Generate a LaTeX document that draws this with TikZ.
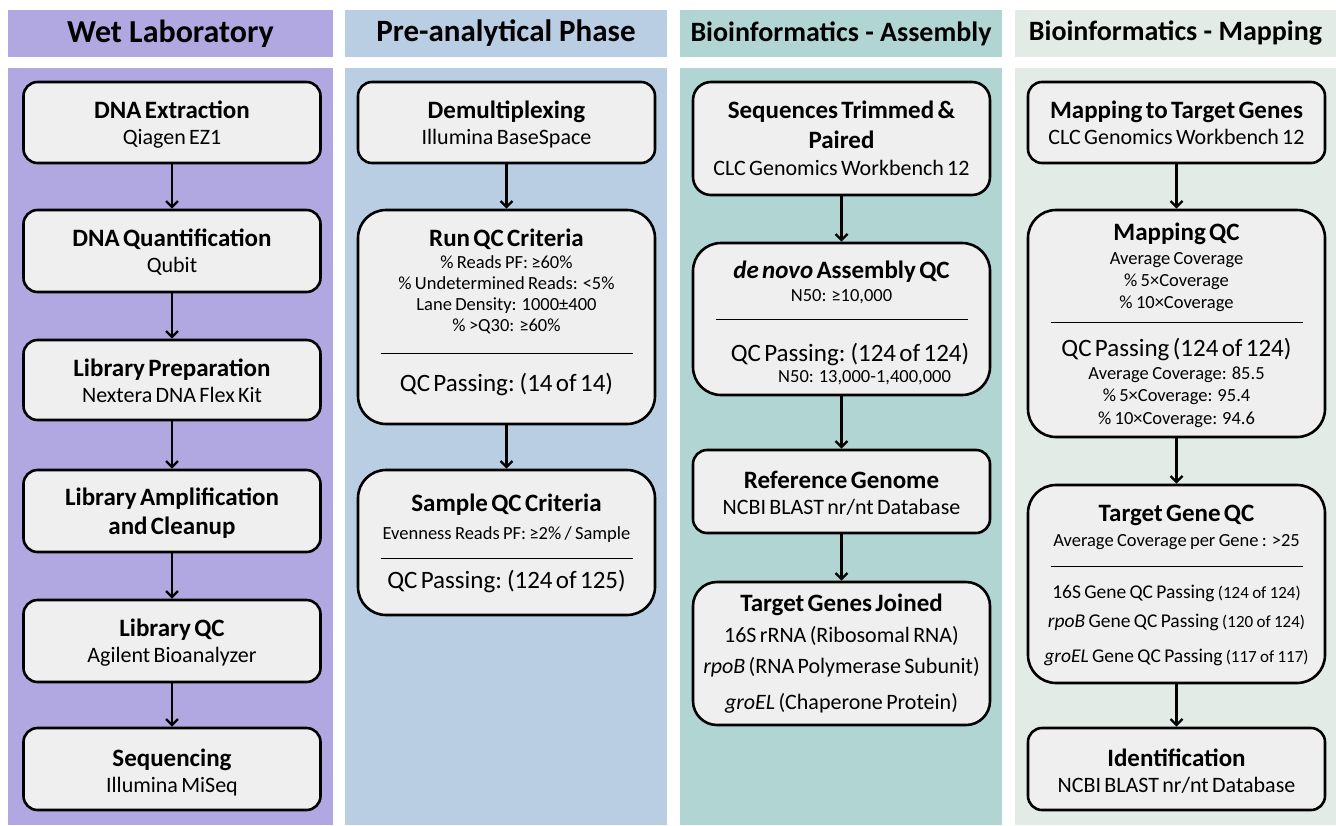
\documentclass[tikz,border=0pt]{standalone}
\usepackage{fontspec}
\setmainfont{Carlito}
\usetikzlibrary{arrows.meta}
\definecolor{wetlab}{HTML}{B2A8E1}
\definecolor{preana}{HTML}{B9CDE3}
\definecolor{assem}{HTML}{B0D5D3}
\definecolor{mapping}{HTML}{E2EBE6}
\definecolor{boxgray}{HTML}{EFEFEF}
% one line of box text: size, skip from the line above, text
\newcommand\lyn[3]{{\fontsize{#1}{#2}\selectfont #3\par}}
\newcommand\ttl[2][29]{\lyn{25}{#1}{\bfseries #2}}
\newcommand\sbt[2][26]{\lyn{22}{#1}{#2}}
\newcommand\sml[2][21]{\lyn{18.5}{#1}{#2}}
\newcommand\pas[2][30]{\lyn{25}{#1}{#2}}
\newcommand\dvd[1][24]{\lyn{10}{#1}{\rule{252pt}{1.3pt}}}
\newcommand\cnt[1]{{\fontsize{17}{17}\selectfont #1}}
\begin{document}
\begin{tikzpicture}[x=1pt,y=-1pt,
 header/.style={minimum height=47pt, inner sep=0pt},
 box/.style={draw, line width=2.6pt, fill=boxgray, rounded corners=14pt, minimum width=297pt, inner xsep=3pt, text width=290pt, align=center, text height=20pt, text depth=#1},
 box/.default=29pt,
 bigbox/.style={box=#1, rounded corners=28pt},
 flow/.style={line width=2.4pt, -{Straight Barb[length=6pt,width=12pt,line width=2.4pt]}}]
\useasboundingbox (0,0) rectangle (1336,825);
\foreach \i/\xa/\xb/\col/\fs/\txt in {1/8/333/wetlab/32/Wet Laboratory, 2/345/667/preana/31/Pre-analytical Phase, 3/680/1002/assem/28/Bioinformatics - Assembly, 4/1015/1336/mapping/28/Bioinformatics - Mapping}{
 \fill[\col] (\xa,68) rectangle (\xb,825);
 \node[header, fill=\col, minimum width=\xb-\xa, font=\fontsize{\fs}{36}\selectfont\bfseries] (hd\i) at ({(\xa+\xb)/2},33.5) {\txt};
}
% wet laboratory
\node[box=29pt, minimum height=81pt] (ext) at (172,122.5) {\ttl{DNA Extraction}\sbt{Qiagen EZ1}};
\node[box=30pt, minimum height=82pt] (quant) at (172,251) {\ttl{DNA Quantification}\sbt{Qubit}};
\node[box=28pt, minimum height=80pt] (prep) at (172,380) {\ttl{Library Preparation}\sbt{Nextera DNA Flex Kit}};
\node[box=32pt, minimum height=82pt] (amp) at (172,511) {\ttl{Library Amplification}\ttl{and Cleanup}};
\node[box=30pt, minimum height=82pt] (lqc) at (172,641) {\ttl{Library QC}\sbt{Agilent Bioanalyzer}};
\node[box=26pt, minimum height=82pt] (seq) at (172,769) {\ttl{Sequencing}\sbt{Illumina MiSeq}};
% pre-analytical
\node[box=29pt, minimum height=81pt] (demux) at (506.5,122.5) {\ttl{Demultiplexing}\sbt{Illumina BaseSpace}};
\node[bigbox=162pt, minimum height=214pt] (runqc) at (506.5,317) {\ttl{Run QC Criteria}\sml[22]{\% Reads PF: ≥60\%}\sml{\% Undetermined Reads: <5\%}\sml{Lane Density: 1000±400}\sml{\% >Q30: ≥60\%}\dvd[23]\pas[37]{QC Passing: (14 of 14)}};
\node[bigbox=83pt, minimum height=145pt] (sampqc) at (506.5,542.5) {\ttl{Sample QC Criteria}\sml[28]{Evenness Reads PF: ≥2\% / Sample}\dvd[20]\pas[29]{QC Passing: (124 of 125)}};
% assembly
\node[box=61pt, rounded corners=18pt, minimum height=113pt] (trim) at (841.5,138.5) {\ttl{Sequences Trimmed \&}\ttl[30]{Paired}\sbt[27]{CLC Genomics Workbench 12}};
\node[bigbox=102pt, minimum height=152pt] (denovo) at (841.5,319) {\ttl{\itshape de novo\upshape{} Assembly QC}\sml[23]{N50: ≥10,000}\dvd[19]\pas[41]{\hspace{17pt}QC Passing: (124 of 124)}\sml{\hspace{46pt}N50: 13,000-1,400,000}};
\node[box=27pt, minimum height=83pt] (refgen) at (841.5,491.5) {\ttl{Reference Genome}\sbt{NCBI BLAST nr/nt Database}};
\node[box=105pt, rounded corners=24pt, minimum height=143pt] (genes) at (841.5,653.5) {\ttl{Target Genes Joined}\sbt[31]{16S rRNA (Ribosomal RNA)}\sbt[31]{\textit{rpoB} (RNA Polymerase Subunit)}\sbt[36]{\textit{groEL} (Chaperone Protein)}};
% mapping
\node[box=29pt, minimum height=81pt] (mapt) at (1176.5,122.5) {\ttl{Mapping to Target Genes}\sbt{CLC Genomics Workbench 12}};
\node[bigbox=187pt, minimum height=227pt] (mapqc) at (1176.5,323.5) {\ttl{Mapping QC}\sml[24]{Average Coverage}\sml[22]{\% 5×Coverage}\sml[22]{\% 10×Coverage}\dvd[15]\pas[33]{QC Passing (124 of 124)}\sml[23]{Average Coverage: 85.5}\sml[22]{\% 5×Coverage: 95.4}\sml[23]{\% 10×Coverage: 94.6}};
\node[bigbox=146pt, minimum height=198pt] (tgqc) at (1176.5,584) {\ttl{Target Gene QC}\sml[25]{Average Coverage per Gene : >25}\dvd[21]\lyn{19.5}{31.5}{16S Gene QC Passing \cnt{(124 of 124)}}\lyn{19.5}{29}{\textit{rpoB} Gene QC Passing \cnt{(120 of 124)}}\lyn{19.5}{35}{\textit{groEL} Gene QC Passing \cnt{(117 of 117)}}};
\node[box=26pt, minimum height=82pt] (ident) at (1176.5,769) {\ttl{Identification}\sbt{NCBI BLAST nr/nt Database}};
\foreach \a/\b in {ext/quant, quant/prep, prep/amp, amp/lqc, lqc/seq, demux/runqc, runqc/sampqc, trim/denovo, denovo/refgen, refgen/genes, mapt/mapqc, mapqc/tgqc, tgqc/ident}
 \draw[flow] (\a) -- (\b);
\end{tikzpicture}
\end{document}
